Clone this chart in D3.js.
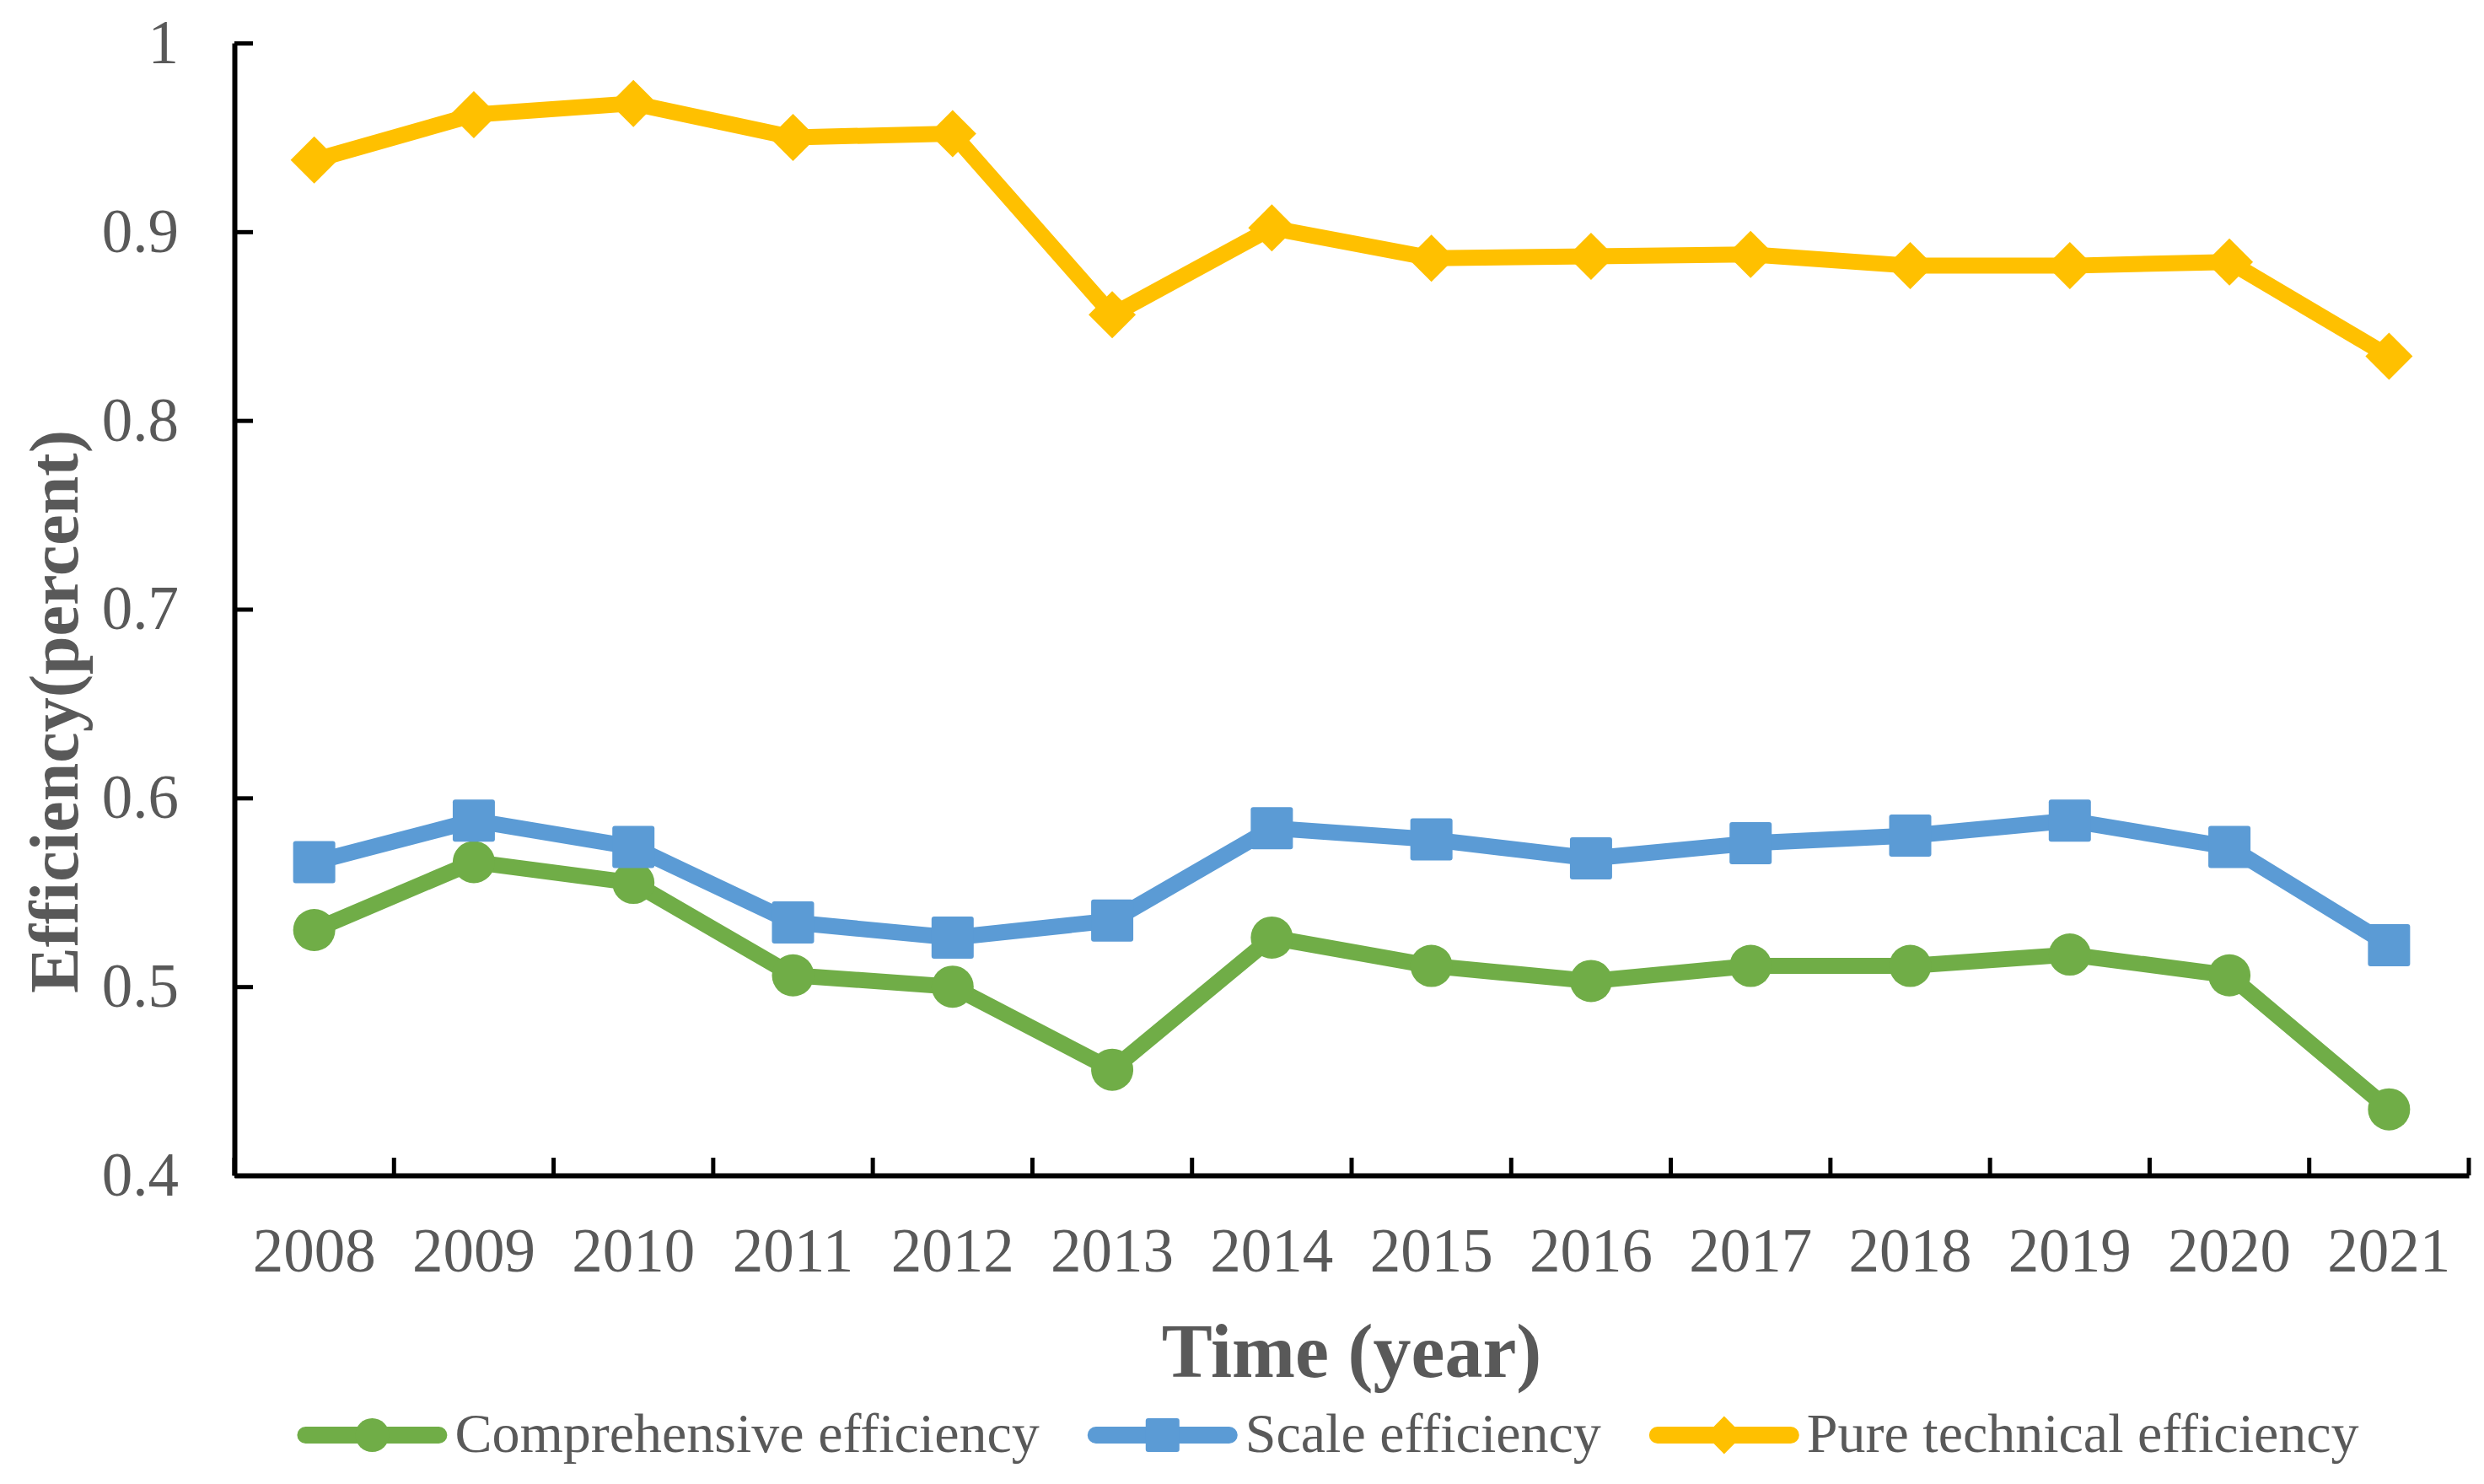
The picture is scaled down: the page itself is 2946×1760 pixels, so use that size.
<!DOCTYPE html>
<html>
<head>
<meta charset="utf-8">
<title>Efficiency 2008-2021</title>
<script src="https://cdn.jsdelivr.net/npm/d3@7"></script>
<style>
  body { margin: 0; background: #fff; }
  svg { display: block; font-family: "Times New Roman", "Liberation Serif", serif; }
</style>
</head>
<body>
<svg width="2946" height="1760"></svg>
<script>
var years = ["2008","2009","2010","2011","2012","2013","2014","2015","2016","2017","2018","2019","2020","2021"]
var comprehensive = [0.530, 0.566, 0.555, 0.506, 0.500, 0.456, 0.526, 0.511, 0.503, 0.511, 0.511, 0.517, 0.506, 0.435]
var scaleEff = [0.566, 0.588, 0.574, 0.534, 0.526, 0.535, 0.584, 0.578, 0.568, 0.576, 0.580, 0.588, 0.574, 0.522]
var pureTech = [0.938, 0.962, 0.968, 0.950, 0.952, 0.856, 0.902, 0.886, 0.887, 0.888, 0.882, 0.882, 0.884, 0.834]
var yTicks = [0.4, 0.5, 0.6, 0.7, 0.8, 0.9, 1]

var series = [
  { name: "Comprehensive efficiency", values: comprehensive, color: "#70AD47", marker: "circle" },
  { name: "Scale efficiency", values: scaleEff, color: "#5B9BD5", marker: "square" },
  { name: "Pure technical efficiency", values: pureTech, color: "#FFC000", marker: "diamond" }
]

var svg = d3.select("svg")
  , mLeft = 278, mRight = 2928, mTop = 51, mBottom = 1394
  , grey = "#595959"

var x = d3.scaleBand().domain(years).range([mLeft, mRight]).padding(0)
var y = d3.scaleLinear().domain([0.4, 1]).range([mBottom, mTop])
var cx = function (d) { return x(d) + x.bandwidth() / 2 }

// markers
function marker(g, type, size, color) {
  if (type == "circle")
    g.append("circle").attr("r", size / 2).attr("fill", color)
  else if (type == "square")
    g.append("rect").attr("x", -size / 2).attr("y", -size / 2)
      .attr("width", size).attr("height", size).attr("rx", 3).attr("fill", color)
  else
    g.append("path").attr("d", "M0," + (-size * 0.56) + "L" + (size * 0.56) + ",0L0," + (size * 0.56) + "L" + (-size * 0.56) + ",0Z")
      .attr("fill", color)
}

// axes
var yAxis = svg.append("g").attr("transform", "translate(" + mLeft + ",0)")
  .call(d3.axisLeft(y).tickValues(yTicks).tickFormat(d3.format("~g"))
    .tickSizeInner(-22).tickSizeOuter(0).tickPadding(66))
yAxis.select(".domain").attr("stroke", "#000").attr("stroke-width", 6)
yAxis.selectAll(".tick line").attr("stroke", "#000").attr("stroke-width", 5)
yAxis.selectAll(".tick text").attr("fill", grey).style("font-size", "73px")
  .style("font-family", "'Times New Roman', 'Liberation Serif', serif")

var xAxis = svg.append("g").attr("transform", "translate(0," + mBottom + ")")
  .call(d3.axisBottom(x).tickSize(0))
xAxis.select(".domain").attr("stroke", "#000").attr("stroke-width", 6)
xAxis.selectAll(".tick text").attr("fill", grey).style("font-size", "73px")
  .style("font-family", "'Times New Roman', 'Liberation Serif', serif")
  .attr("dy", 0).attr("y", 114)

xAxis.selectAll(".bound").data(d3.range(years.length + 1)).enter()
  .append("line").attr("class", "bound")
  .attr("x1", function (i) { return mLeft + i * x.step() })
  .attr("x2", function (i) { return mLeft + i * x.step() })
  .attr("y1", 0).attr("y2", -21)
  .attr("stroke", "#000").attr("stroke-width", 5)

// lines
var line = d3.line().x(function (d, i) { return cx(years[i]) }).y(function (d) { return y(d) })

series.forEach(function (s) {
  svg.append("path").datum(s.values)
    .attr("d", line).attr("fill", "none").attr("stroke", s.color)
    .attr("stroke-width", 19).attr("stroke-linejoin", "round").attr("stroke-linecap", "round")
  svg.selectAll(null).data(s.values).enter().append("g")
    .attr("transform", function (d, i) { return "translate(" + cx(years[i]) + "," + y(d) + ")" })
    .each(function () { marker(d3.select(this), s.marker, 50, s.color) })
})

// axis titles
svg.append("text").attr("x", (mLeft + mRight) / 2).attr("y", 1633)
  .attr("text-anchor", "middle").attr("font-weight", "bold").attr("font-size", 90)
  .attr("fill", grey).text("Time (year)")

svg.append("text").attr("transform", "translate(92,844) rotate(-90)")
  .attr("text-anchor", "middle").attr("font-weight", "bold").attr("font-size", 82)
  .attr("fill", grey).text("Efficiency(percent)")

// legend
var legend = svg.append("g")
var lx = 0
series.forEach(function (s, i) {
  var item = legend.append("g").attr("transform", "translate(" + lx + ",0)")
  item.append("line").attr("x1", 10).attr("x2", 168).attr("y1", 0).attr("y2", 0)
    .attr("stroke", s.color).attr("stroke-width", 20).attr("stroke-linecap", "round")
  marker(item.append("g").attr("transform", "translate(89,0)"), s.marker, 40, s.color)
  var t = item.append("text").attr("x", 187).attr("y", 20).attr("font-size", 66)
    .attr("fill", grey).text(s.name)
  lx += 187 + t.node().getComputedTextLength() + 57
})
var total = lx - 57
legend.attr("transform", "translate(" + (1575 - total / 2) + ",1702)")
</script>
</body>
</html>
